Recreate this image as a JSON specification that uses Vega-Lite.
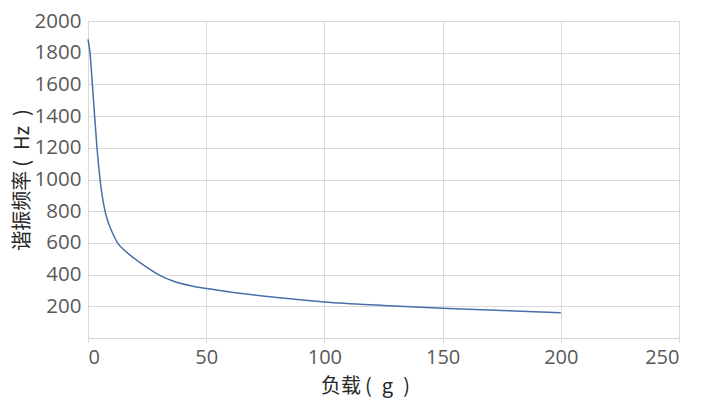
{
  "$schema": "https://vega.github.io/schema/vega-lite/v6.json",
  "width": 591,
  "height": 317,
  "autosize": "none",
  "padding": {"left": 88, "top": 21, "right": 31, "bottom": 79},
  "background": "white",
  "config": {
    "view": {"stroke": null},
    "font": "Noto Sans CJK SC"
  },
  "data": {
    "values": [
      {"load": 0, "freq": 1884},
      {"load": 0.85, "freq": 1800},
      {"load": 1.85, "freq": 1600},
      {"load": 2.8, "freq": 1400},
      {"load": 3.8, "freq": 1200},
      {"load": 5.1, "freq": 1000},
      {"load": 7.2, "freq": 800},
      {"load": 8.8, "freq": 720},
      {"load": 10.9, "freq": 645},
      {"load": 12.5, "freq": 600},
      {"load": 15.1, "freq": 558},
      {"load": 22.2, "freq": 474},
      {"load": 30.6, "freq": 394},
      {"load": 36.2, "freq": 358},
      {"load": 43.3, "freq": 330},
      {"load": 51, "freq": 310},
      {"load": 60, "freq": 290},
      {"load": 80, "freq": 255},
      {"load": 100, "freq": 227},
      {"load": 125, "freq": 205},
      {"load": 150, "freq": 187},
      {"load": 175, "freq": 173},
      {"load": 200, "freq": 160}
    ]
  },
  "mark": {"type": "line", "color": "#4a6ea9", "strokeWidth": 1.5, "interpolate": "monotone"},
  "encoding": {
    "x": {
      "field": "load",
      "type": "quantitative",
      "scale": {"domain": [0, 250], "nice": false},
      "axis": {
        "title": "负载\u2009(\u2002g\u2002)",
        "titleX": 277,
        "values": [0, 50, 100, 150, 200, 250],
        "grid": true,
        "gridColor": "#d9d9d9",
        "domainColor": "#d9d9d9",
        "tickColor": "#d9d9d9",
        "tickSize": 4,
        "labelFont": "Open Sans",
        "labelFontSize": 20,
        "labelColor": "#595959",
        "labelPadding": 5,
        "titleFont": "Noto Sans CJK SC",
        "titleFontSize": 20,
        "titleFontWeight": "normal",
        "titleColor": "#262626",
        "titlePadding": 9
      }
    },
    "y": {
      "field": "freq",
      "type": "quantitative",
      "scale": {"domain": [0, 2000], "nice": false},
      "axis": {
        "title": "谐振频率\u2009(\u2002Hz\u2002)",
        "values": [0, 200, 400, 600, 800, 1000, 1200, 1400, 1600, 1800, 2000],
        "labelExpr": "datum.value === 0 ? '' : datum.label",
        "format": "d",
        "grid": true,
        "gridColor": "#d9d9d9",
        "domain": false,
        "ticks": false,
        "labelFont": "Open Sans",
        "labelFontSize": 20.5,
        "labelColor": "#595959",
        "labelPadding": 7,
        "titleFont": "Noto Sans CJK SC",
        "titleFontSize": 20,
        "titleFontWeight": "normal",
        "titleColor": "#262626",
        "titlePadding": 2
      }
    }
  }
}
